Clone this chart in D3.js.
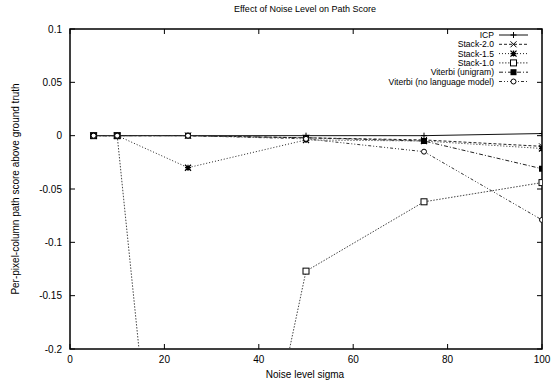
<!DOCTYPE html>
<html>
<head>
<meta charset="utf-8">
<script src="https://cdn.jsdelivr.net/npm/d3@7"></script>
<style>
  body { margin: 0; background: #fff; }
  svg { font-family: "Liberation Sans", Arial, sans-serif; }
</style>
</head>
<body>
<svg id="chart" width="555" height="385"></svg>
<script>
const noiseLevels = [5, 10, 25, 50, 75, 100];
const seriesNames = ["ICP", "Stack-2.0", "Stack-1.5", "Stack-1.0", "Viterbi (unigram)", "Viterbi (no language model)"];
const icp = [0, 0, 0, 0, 0, 0.002];
const stack20 = [0, 0, 0, -0.002, -0.004, -0.01];
const stack15 = [0, 0, -0.03, -0.004, -0.005, -0.012];
const stack10 = [0, 0, -0.65, -0.127, -0.062, -0.044];
const viterbiUni = [0, 0, 0, -0.002, -0.005, -0.031];
const viterbiNoLm = [0, 0, 0, -0.003, -0.015, -0.079];
const xTicks = [0, 20, 40, 60, 80, 100];
const yTicks = [0.1, 0.05, 0, -0.05, -0.1, -0.15, -0.2];

const allValues = [icp, stack20, stack15, stack10, viterbiUni, viterbiNoLm];
const dashes = ["none", "3,2", "1,2", "1.5,1.5", "4,2,1,2", "3,2,1,2,1,2"];
const strokes = ["#111", "#222", "#222", "#444", "#222", "#333"];
const markers = ["plus", "cross", "star", "square", "fsquare", "circle"];

const svg = d3.select("#chart");
const plotLeft = 70, plotRight = 542, plotTop = 29, plotBottom = 349;

const x = d3.scaleLinear().domain([0, 100]).range([plotLeft, plotRight]);
const y = d3.scaleLinear().domain([-0.2, 0.1]).range([plotBottom, plotTop]);

// clip data to plot box
svg.append("clipPath").attr("id", "clip")
  .append("rect").attr("x", plotLeft).attr("y", plotTop)
  .attr("width", plotRight - plotLeft).attr("height", plotBottom - plotTop);

// ticks (inward, mirrored)
const tickLen = 5;
xTicks.forEach(t => {
  svg.append("line").attr("x1", x(t)).attr("x2", x(t)).attr("y1", plotBottom).attr("y2", plotBottom - tickLen)
    .attr("stroke", "#000");
  svg.append("line").attr("x1", x(t)).attr("x2", x(t)).attr("y1", plotTop).attr("y2", plotTop + tickLen)
    .attr("stroke", "#000");
  svg.append("text").attr("x", x(t)).attr("y", plotBottom + 14).attr("text-anchor", "middle")
    .attr("font-size", 10).text(t);
});
yTicks.forEach(t => {
  svg.append("line").attr("x1", plotLeft).attr("x2", plotLeft + tickLen).attr("y1", y(t)).attr("y2", y(t))
    .attr("stroke", "#000");
  svg.append("line").attr("x1", plotRight).attr("x2", plotRight - tickLen).attr("y1", y(t)).attr("y2", y(t))
    .attr("stroke", "#000");
  svg.append("text").attr("x", plotLeft - 8).attr("y", y(t) + 3.5).attr("text-anchor", "end")
    .attr("font-size", 10).text(t);
});

// frame
svg.append("rect").attr("x", plotLeft).attr("y", plotTop)
  .attr("width", plotRight - plotLeft).attr("height", plotBottom - plotTop)
  .attr("fill", "none").attr("stroke", "#000").attr("stroke-width", 1.5);

// titles
svg.append("text").attr("x", 305).attr("y", 12).attr("text-anchor", "middle")
  .attr("font-size", 9).text("Effect of Noise Level on Path Score");
svg.append("text").attr("x", 305).attr("y", 378).attr("text-anchor", "middle")
  .attr("font-size", 10).text("Noise level sigma");
svg.append("text").attr("transform", "translate(19,189) rotate(-90)").attr("text-anchor", "middle")
  .attr("font-size", 10).text("Per-pixel-column path score above ground truth");

const drawMarker = (g, kind, cx, cy) => {
  const s = 3;
  if (kind === "plus") {
    g.append("path").attr("d", `M${cx - s},${cy}H${cx + s}M${cx},${cy - s}V${cy + s}`).attr("stroke", "#000");
  } else if (kind === "cross") {
    g.append("path").attr("d", `M${cx - s},${cy - s}L${cx + s},${cy + s}M${cx - s},${cy + s}L${cx + s},${cy - s}`)
      .attr("stroke", "#000");
  } else if (kind === "star") {
    g.append("path").attr("d", `M${cx - s},${cy}H${cx + s}M${cx},${cy - s}V${cy + s}M${cx - s},${cy - s}L${cx + s},${cy + s}M${cx - s},${cy + s}L${cx + s},${cy - s}`)
      .attr("stroke", "#000").attr("stroke-width", 1.3);
  } else if (kind === "square") {
    g.append("rect").attr("x", cx - s).attr("y", cy - s).attr("width", 2 * s).attr("height", 2 * s)
      .attr("fill", "#fff").attr("stroke", "#000");
  } else if (kind === "fsquare") {
    g.append("rect").attr("x", cx - s).attr("y", cy - s).attr("width", 2 * s).attr("height", 2 * s)
      .attr("fill", "#000");
  } else {
    g.append("circle").attr("cx", cx).attr("cy", cy).attr("r", s - 0.5)
      .attr("fill", "#fff").attr("stroke", "#000");
  }
};

const line = d3.line().x(d => x(d[0])).y(d => y(d[1]));
const plot = svg.append("g").attr("clip-path", "url(#clip)");

allValues.forEach((vals, i) => {
  const pts = noiseLevels.map((n, j) => [n, vals[j]]);
  plot.append("path").datum(pts).attr("d", line).attr("fill", "none")
    .attr("stroke", strokes[i]).attr("stroke-width", 1).attr("stroke-dasharray", dashes[i]);
  pts.filter(p => p[1] >= -0.2).forEach(p => drawMarker(plot, markers[i], x(p[0]), y(p[1])));
});

// legend
const legendY = 35, legendStep = 9.3;
seriesNames.forEach((name, i) => {
  const ly = legendY + i * legendStep;
  svg.append("text").attr("x", 494).attr("y", ly + 3).attr("text-anchor", "end")
    .attr("font-size", 8.6).text(name);
  svg.append("line").attr("x1", 499).attr("x2", 528).attr("y1", ly).attr("y2", ly)
    .attr("stroke", strokes[i]).attr("stroke-dasharray", dashes[i]);
  drawMarker(svg, markers[i], 513.5, ly);
});
</script>
</body>
</html>
